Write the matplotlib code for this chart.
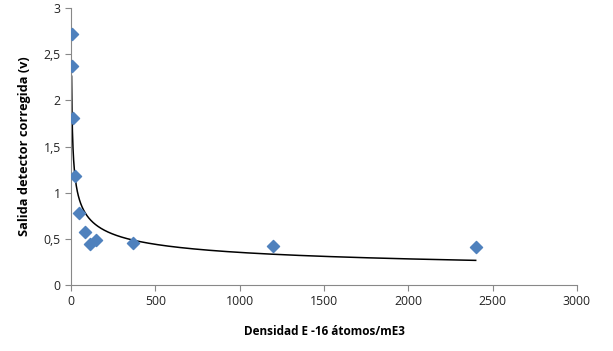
import numpy as np
import matplotlib
matplotlib.use('Agg')
import matplotlib.pyplot as plt
from matplotlib.ticker import FuncFormatter

plt.rcParams['font.family'] = ['Open Sans', 'DejaVu Sans']

densidad = [3, 6, 12, 24, 45, 85, 110, 150, 370, 1200, 2400]
salida = [2.72, 2.37, 1.81, 1.18, 0.78, 0.57, 0.44, 0.49, 0.45, 0.42, 0.41]

# ajuste potencial (linea de tendencia)
b, ln_a = np.polyfit(np.log(densidad), np.log(salida), 1)
xs = np.linspace(min(densidad), max(densidad), 2000)
ys = np.exp(ln_a) * xs ** b

fig = plt.figure(figsize=(6.13, 3.51), dpi=100)
ax = fig.add_axes([0.116, 0.188, 0.825, 0.789])

ax.plot(xs, ys, color='black', lw=1.1)
ax.scatter(densidad, salida, marker='D', s=38, color='#4F81BD', zorder=3)

ax.set_xlim(0, 3000)
ax.set_ylim(0, 3)
ax.set_xticks(np.arange(0, 3001, 500))
ax.set_yticks(np.arange(0, 3.01, 0.5))
ax.yaxis.set_major_formatter(FuncFormatter(lambda v, p: ('%g' % v).replace('.', ',')))

for s in ['top', 'right']:
    ax.spines[s].set_visible(False)
for s in ['left', 'bottom']:
    ax.spines[s].set_color('#888888')
ax.tick_params(colors='#888888', labelcolor='#222222', labelsize=8.8, length=4)

ax.set_xlabel('Densidad E -16 átomos/mE3', fontsize=8.5, fontweight='bold', labelpad=12)
ax.set_ylabel('Salida detector corregida (v)', fontsize=9.2, fontweight='bold', labelpad=9)

fig.savefig('out.png', dpi=100)
